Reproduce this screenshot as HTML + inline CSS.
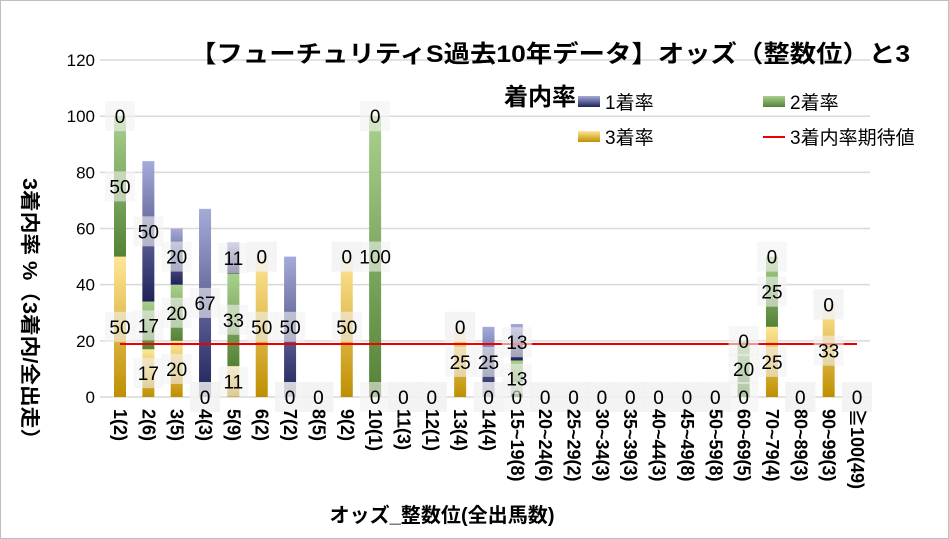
<!DOCTYPE html><html><head><meta charset="utf-8"><style>
body{margin:0;background:#fff}
svg{display:block;font-family:"Liberation Sans","Noto Sans CJK JP",sans-serif}
</style></head><body>
<svg id="s" width="949" height="539" xmlns="http://www.w3.org/2000/svg">
<defs>
<linearGradient id="gy" x1="0" y1="0" x2="0" y2="1"><stop offset="0" stop-color="#ffe699"/><stop offset="1" stop-color="#bf8f00"/></linearGradient>
<linearGradient id="gg" x1="0" y1="0" x2="0" y2="1"><stop offset="0" stop-color="#a9d18e"/><stop offset="1" stop-color="#548235"/></linearGradient>
<linearGradient id="gb" x1="0" y1="0" x2="0" y2="1"><stop offset="0" stop-color="#a5abd9"/><stop offset="1" stop-color="#1f2158"/></linearGradient>
</defs>
<rect x="0.5" y="0.5" width="948" height="538" fill="#fff" stroke="#bfbfbf"/>
<g id="grid"></g>
<g id="bars"></g>
<line x1="120" y1="344" x2="857" y2="344" stroke="#e00" stroke-width="2"/>
<g id="labels" font-size="19"></g>
<g id="xl" font-size="18" font-weight="bold"></g>
<text x="550" y="62" text-anchor="middle" font-size="24" font-weight="bold" textLength="720" lengthAdjust="spacingAndGlyphs">【フューチュリティS過去10年データ】オッズ（整数位）と3</text>
<text x="540" y="105" text-anchor="middle" font-size="24" font-weight="bold">着内率</text>
<rect x="578" y="96" width="22" height="11" fill="url(#gb)"/><text x="605" y="109" font-size="19">1着率</text>
<rect x="763" y="96" width="22" height="11" fill="url(#gg)"/><text x="790" y="109" font-size="19">2着率</text>
<rect x="578" y="131" width="22" height="11" fill="url(#gy)"/><text x="605" y="144" font-size="19">3着率</text>
<line x1="763" y1="137" x2="785" y2="137" stroke="#e00" stroke-width="2"/><text x="790" y="144" font-size="19">3着内率期待値</text>
<text x="442" y="522" text-anchor="middle" font-size="20" font-weight="bold" textLength="225" lengthAdjust="spacingAndGlyphs">オッズ_整数位(全出馬数)</text>
<text transform="translate(23,178) rotate(90)" font-size="20" font-weight="bold" textLength="272" lengthAdjust="spacingAndGlyphs">3着内率 %（3着内/全出走）</text>
</svg>
<script>
var s="http://www.w3.org/2000/svg";
function el(p,t,a,txt){var e=document.createElementNS(s,t);for(var k in a)e.setAttribute(k,a[k]);if(txt!=null)e.textContent=txt;document.getElementById(p).appendChild(e);}
var Y=v=>397-v*2.808;
for(var v=0;v<=120;v+=20){el("grid","line",{x1:100,x2:870,y1:Y(v),y2:Y(v),stroke:"#d9d9d9","stroke-width":1.5});el("grid","text",{x:95,y:Y(v)+6,"text-anchor":"end","font-size":17},v);}
var d=[[0,50,50],[50,17,17],[20,20,20],[67,0,0],[11,33,11],[0,0,50],[50,0,0],[0,0,0],[0,0,50],[0,100,0],[0,0,0],[0,0,0],[0,0,25],[25,0,0],[13,13,0],[0,0,0],[0,0,0],[0,0,0],[0,0,0],[0,0,0],[0,0,0],[0,0,0],[0,20,0],[0,25,25],[0,0,0],[0,0,33],[0,0,0]];
var dx=(857-120)/26;
var cats=["1(2)","2(6)","3(5)","4(3)","5(9)","6(2)","7(2)","8(5)","9(2)","10(1)","11(3)","12(1)","13(4)","14(4)","15~19(8)","20~24(6)","25~29(2)","30~34(3)","35~39(3)","40~44(3)","45~49(8)","50~59(8)","60~69(5)","70~79(4)","80~89(3)","90~99(3)","≧100(49)"];
for(var i=0;i<27;i++){var cx=120+i*dx,[a,b,c]=d[i],base=0;
 var segs=[[c,"gy"],[b,"gg"],[a,"gb"]];var labs=[];
 segs.forEach(function(sg){var v=sg[0];if(v>0)el("bars","rect",{x:cx-6,y:Y(base+v),width:12,height:v*2.808,fill:"url(#"+sg[1]+")"});labs.push([base+v/2,v]);base+=v;});
 labs.forEach(function(l){var y=Y(l[0]);el("labels","rect",{x:cx-15,y:y-15,width:30,height:30,fill:"#f2f2f2","fill-opacity":0.6});el("labels","text",{x:cx,y:y+7,"text-anchor":"middle"},l[1]);});
 el("xl","text",{transform:"translate("+(cx-6)+",409) rotate(90)"},cats[i]);
}
</script>
</body></html>
